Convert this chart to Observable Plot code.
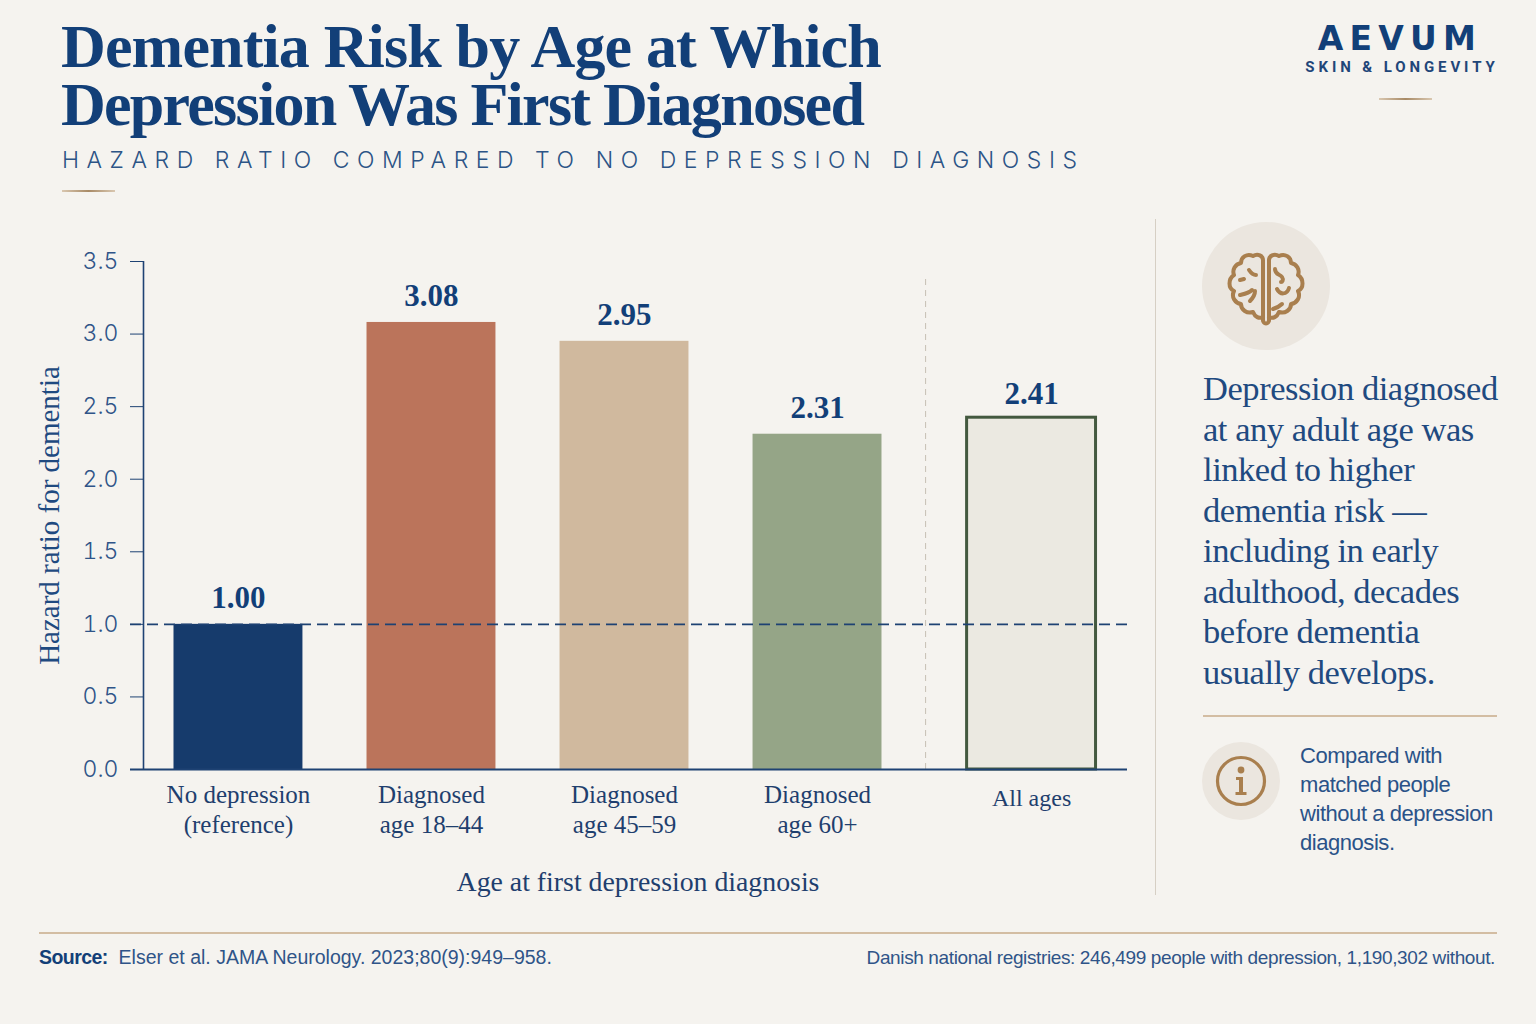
<!DOCTYPE html>
<html>
<head>
<meta charset="utf-8">
<script src="https://cdn.jsdelivr.net/npm/d3@7"></script>
<script src="https://cdn.jsdelivr.net/npm/@observablehq/plot@0.6"></script>
<style>
html,body{margin:0;padding:0;background:#f5f3ef;}
#page{position:relative;width:1536px;height:1024px;overflow:hidden;background:#f5f3ef;}
#page div,#page svg.deco{position:absolute;}
h1{position:absolute;left:61px;top:17px;margin:0;font:700 62px/58px "Liberation Serif",serif;color:#123f78;white-space:nowrap;}
#sub{left:62px;top:146px;font:300 23px/28px Inter,sans-serif;letter-spacing:7.55px;color:#2c5486;white-space:nowrap;}
#chart{left:0;top:220px;}
#logo1{left:1300px;width:200px;top:18px;text-align:center;font:700 33px/42px "DejaVu Sans",sans-serif;letter-spacing:6.2px;color:#123f78;}
#logo2{left:1301px;width:202px;top:58px;text-align:center;font:700 15px/18px Roboto,sans-serif;letter-spacing:3.9px;color:#1f4679;white-space:nowrap;}
#take{left:1203px;top:368px;width:320px;font:400 34.5px/40.5px "Liberation Serif",serif;letter-spacing:-.45px;color:#1f4a80;white-space:pre;}
#note{left:1300px;top:741px;font:400 22px/29px "Liberation Sans",sans-serif;letter-spacing:-.45px;color:#2a5288;white-space:pre;}
#srcL{left:39px;top:945px;font:400 19.5px/25px "Liberation Sans",sans-serif;color:#2f5488;white-space:pre;}
#srcL b{color:#123f78;letter-spacing:-.55px;}
#srcR{right:41px;top:945px;font:400 19px/25px "Liberation Sans",sans-serif;letter-spacing:-.38px;color:#2f5488;white-space:pre;}
.rule{background:#d3bda3;height:1.5px;}
.short{height:2px;background:linear-gradient(90deg,#d9c7b0,#a88a66 50%,#d9c7b0);}
</style>
</head>
<body>
<div id="page">
  <h1><span style="letter-spacing:-.85px">Dementia Risk by Age at Which</span><br><span style="letter-spacing:-1.72px">Depression Was First Diagnosed</span></h1>
  <div id="sub">HAZARD RATIO COMPARED TO NO DEPRESSION DIAGNOSIS</div>
  <div class="short" style="left:62px;top:190px;width:53px"></div>
  <div id="logo1">AEVUM</div>
  <div id="logo2">SKIN &amp; LONGEVITY</div>
  <div class="short" style="left:1379px;top:98px;width:53px"></div>
  <div id="chart"></div>
  <div style="left:1155px;top:219px;width:1px;height:676px;background:#d6cfc4"></div>
  <svg class="deco" style="left:1200px;top:220px" width="132" height="132" viewBox="-66 -66 132 132">
    <circle r="64" fill="#ebe6df"/>
    <g transform="translate(0,3)" fill="none" stroke="#a97f4e" stroke-width="4" stroke-linecap="round" stroke-linejoin="round">
      <path d="M-3 31V-29C-3 -33 -8 -36 -13 -33C-19 -36 -25 -32 -25 -26C-31 -25 -34 -19 -32 -14C-38 -10 -38 -1 -32 2C-35 8 -31 14 -25 15C-25 21 -19 25 -13 23C-11 28 -7 30 -3 28"/>
      <path d="M-3 31A3 3.5 0 0 0 3 31"/>
      <path d="M-17 -19C-15 -16 -13 -14 -10 -14M-26 -9L-22 -10M-26 6C-22 5 -17 4 -14 1M-16 12C-13 9 -11 5 -11 2"/>
      <path d="M3 31V-29C3 -33 8 -36 13 -33C19 -36 25 -32 25 -26C31 -25 34 -19 32 -14C38 -10 38 -1 32 2C35 8 31 14 25 15C25 21 19 25 13 23C11 28 7 30 3 28"/>
      <path d="M9 -20C9 -14 14 -15 16 -12C18 -9 16 -7 15 -7M11 0C14 6 21 6 23 -1M7 20C10 19 13 18 16 15"/>
    </g>
  </svg>
  <div id="take">Depression diagnosed
at any adult age was
linked to higher
dementia risk —
including in early
adulthood, decades
before dementia
usually develops.</div>
  <div class="rule" style="left:1203px;top:715px;width:294px"></div>
  <svg class="deco" style="left:1200px;top:740px" width="82" height="82" viewBox="-41 -41 82 82">
    <circle r="39" fill="#ebe6df"/>
    <circle r="23.5" fill="none" stroke="#a97f4e" stroke-width="3.2"/>
    <circle cy="-11" r="3.4" fill="#a97f4e"/>
    <path d="M-5 -4H2V11H5.5V14H-5.5V11H-2V-1H-5Z" fill="#a97f4e"/>
  </svg>
  <div id="note">Compared with
matched people
without a depression
diagnosis.</div>
  <div class="rule" style="left:39px;top:932px;width:1458px"></div>
  <div id="srcL"><b>Source:</b>  Elser et al. JAMA Neurology. 2023;80(9):949–958.</div>
  <div id="srcR">Danish national registries: 246,499 people with depression, 1,190,302 without.</div>
</div>
<script>
const categories = ["No depression", "Diagnosed 18–44", "Diagnosed 45–59", "Diagnosed 60+", "All ages"];
const tickLabels = ["No depression\n(reference)", "Diagnosed\nage 18–44", "Diagnosed\nage 45–59", "Diagnosed\nage 60+", "All ages"];
const hazardRatios = [1.00, 3.08, 2.95, 2.31, 2.41];
const yTicks = [0, 0.5, 1, 1.5, 2, 2.5, 3, 3.5];
const palette = ["#163b6c", "#bb745b", "#d0b99e", "#95a587", "#ebe9e1"];
const xTitle = "Age at first depression diagnosis";

const rows = categories.map((category, i) => ({category, value: hazardRatios[i], label: tickLabels[i], i}));
const NAVY = "#1e4273";
const GAP = 0.109;                 // extra room before the "All ages" column
const slot = i => i === 4 ? i + GAP : i;
const HALF = 0.334;
const serif = "Liberation Serif, serif";
const groupSlots = rows.filter(d => d.i < 4).map(d => slot(d.i));
const labelOf = v => rows.find(d => Math.abs(slot(d.i) - v) < 1e-6).label;
const allAges = rows.filter(d => d.i === 4);

const chart = Plot.plot({
  width: 1160, height: 700,
  marginLeft: 143, marginRight: 33, marginTop: 41, marginBottom: 151,
  style: {background: "transparent", overflow: "visible"},
  x: {type: "linear", domain: [-0.492, 4.606], axis: null},
  y: {domain: [0, 3.5], axis: null},
  color: {domain: categories, range: palette},
  marks: [
    Plot.rectY(rows.filter(d => d.i < 4), {x1: d => slot(d.i) - HALF, x2: d => slot(d.i) + HALF, y: "value", fill: "category"}),
    Plot.rectY(allAges, {x1: d => slot(d.i) - HALF, x2: d => slot(d.i) + HALF, y: "value", fill: "category", stroke: "#43593f", strokeWidth: 3, insetTop: -2}),
    Plot.ruleX([3.56], {y1: 0, y2: 3.397, stroke: "#c6bfb3", strokeDasharray: "6 5", strokeWidth: 1}),
    Plot.ruleY([1], {stroke: NAVY, strokeDasharray: "11 6", strokeWidth: 1.6, insetLeft: -13}),
    Plot.ruleY([0], {stroke: NAVY, strokeWidth: 1.8, insetLeft: -13}),
    Plot.axisY({ticks: yTicks, anchor: "left", tickSize: 13, tickPadding: 12, tickFormat: d3.format(".1f"),
      fontFamily: "Inter, sans-serif", fontWeight: 300, fontSize: 23, stroke: NAVY, fill: "#2f5488", label: null}),
    Plot.ruleX([-0.492], {y1: 0, y2: 3.5, stroke: NAVY, strokeWidth: 1.6}),
    Plot.axisY({ticks: [], anchor: "left", label: "Hazard ratio for dementia", labelAnchor: "center", labelArrow: "none", labelOffset: 105,
      fontFamily: serif, fontSize: 29, fill: "#1f4a80"}),
    Plot.axisX({ticks: groupSlots, anchor: "bottom", tickSize: 0, tickPadding: 13, tickFormat: labelOf, lineHeight: 1.18,
      fontFamily: serif, fontSize: 25, fill: "#1f3f6e", label: null}),
    Plot.axisX({ticks: [slot(4)], anchor: "bottom", tickSize: 0, tickPadding: 19, tickFormat: labelOf,
      fontFamily: serif, fontSize: 24, fill: "#1f3f6e", label: null}),
    Plot.text([xTitle], {x: 2.07, y: 0, dy: 113, text: d => d, lineAnchor: "middle",
      fontFamily: serif, fontSize: 27.8, fill: "#1f3f6e"}),
    Plot.text(rows, {x: d => slot(d.i), y: "value", text: d => d.value.toFixed(2), dy: -26, lineAnchor: "middle",
      fontFamily: serif, fontWeight: 700, fontSize: 31, fill: "#123f78"})
  ]
});
document.getElementById("chart").appendChild(chart);
</script>
</body>
</html>
